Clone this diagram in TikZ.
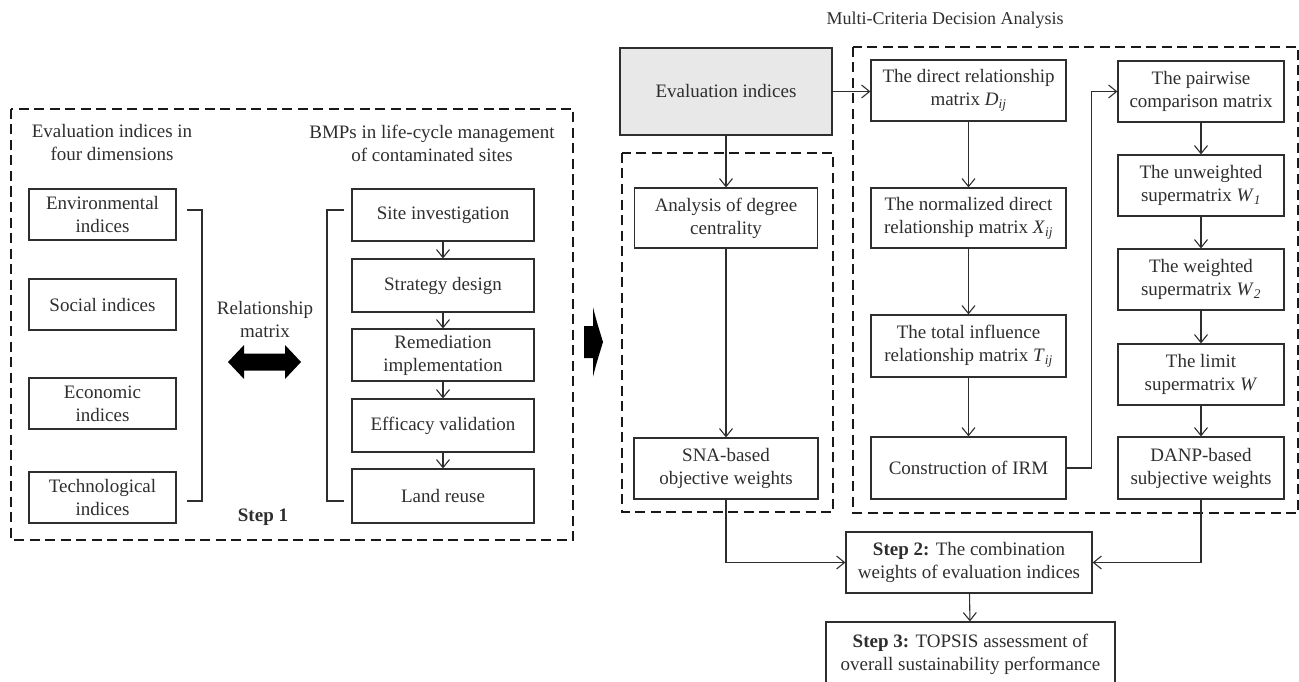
\documentclass[tikz,border=0pt]{standalone}
\usepackage{fontspec}
\setmainfont{Liberation Serif}
\usetikzlibrary{arrows.meta}
\definecolor{ink}{gray}{0.18}
\definecolor{boxfill}{gray}{0.91}
\begin{document}
\begin{tikzpicture}[x=1pt,y=-1pt,
  every node/.style={font=\fontsize{19}{23}\selectfont, text=ink, inner sep=0pt, align=center},
  bx/.style 2 args={draw=ink, line width=1.2pt, minimum width=#1, minimum height=#2},
  txt/.style={},
  dbox/.style={draw=black!90, line width=2pt, dash pattern=on 10pt off 5.5pt},
  arr/.style={draw=ink, line width=1.1pt, -{Straight Barb[length=8pt,width=13pt,line width=1.1pt]}},
  ln/.style={draw=ink, line width=1.2pt},
  bigarrow/.style={fill=black, draw=black, line width=0.6pt, line join=miter}
]
\useasboundingbox (0,0) rectangle (1299,682);

% ---------------- Step 1 ----------------
\draw[dbox] (11,109) rectangle (573,540);
\node[txt] (h1) at (112,143) {Evaluation indices in\\four dimensions};
\node[txt] (h2) at (432,143) {BMPs in life-cycle management\\of contaminated sites};

\node[bx={147pt}{51pt}] (env)  at (102.5,214.5) {Environmental\\indices};
\node[bx={147pt}{51pt}] (soc)  at (102.5,304.5) {Social indices};
\node[bx={147pt}{51pt}] (eco)  at (102.5,403.5) {Economic\\indices};
\node[bx={147pt}{51pt}] (tech) at (102.5,497.5) {Technological\\indices};

\coordinate (lb1) at (187,210); \coordinate (lb2) at (202,210);
\coordinate (lb3) at (202,501); \coordinate (lb4) at (187,501);
\draw[ln] (lb1) -- (lb2) -- (lb3) -- (lb4);

\coordinate (rb1) at (344,210); \coordinate (rb2) at (327,210);
\coordinate (rb3) at (327,501); \coordinate (rb4) at (344,501);
\draw[ln] (rb1) -- (rb2) -- (rb3) -- (rb4);

\node[txt] (rel) at (265,319) {Relationship\\matrix};
\fill[black] (228,362) -- (244,345) -- (244,353.5) -- (285,353.5) -- (285,345) -- (301,362)
  -- (285,379) -- (285,370.5) -- (244,370.5) -- (244,379) -- cycle;
\node[txt, font=\fontsize{19}{23}\selectfont\bfseries] (s1) at (263,517) {Step 1};

\node[bx={182pt}{52pt}] (site) at (443,215)   {Site investigation};
\node[bx={182pt}{53pt}] (strat) at (443,285.5) {Strategy design};
\node[bx={182pt}{52pt}] (rem)  at (443,355)   {Remediation\\implementation};
\node[bx={182pt}{53pt}] (eff)  at (443,425.5) {Efficacy validation};
\node[bx={182pt}{54pt}] (land) at (443,496)   {Land reuse};
\draw[arr] (site) -- (strat);
\draw[arr] (strat) -- (rem);
\draw[arr] (rem) -- (eff);
\draw[arr] (eff) -- (land);

% big arrow between parts
\fill[black] (584,326) -- (593,326) -- (593,307) .. controls (596,320) and (600,332) .. (603,342)
  .. controls (600,352) and (596,364) .. (593,377) -- (593,358) -- (584,358) -- cycle;

% ---------------- MCDA ----------------
\node[txt, font=\fontsize{18}{22}\selectfont] (mcda) at (945,20) {Multi-Criteria Decision Analysis};

\node[bx={212pt}{87pt}, fill=boxfill] (eval) at (726,91.5) {Evaluation indices};

\draw[dbox] (622,153) rectangle (833,512);
\node[bx={183pt}{60pt}] (deg) at (726,218) {Analysis of degree\\centrality};
\node[bx={184pt}{61pt}] (sna) at (726,468.5) {SNA-based\\objective weights};
\draw[arr] (eval) -- (deg);
\draw[arr] (deg) -- (sna);

\draw[dbox] (853,47) rectangle (1298,513);
\node[bx={195pt}{61pt}] (dir)  at (968.5,90.5) {The direct relationship\\matrix \textit{D}\textsubscript{\textit{ij}}};
\node[bx={195pt}{60pt}] (norm) at (968.5,218)  {The normalized direct\\relationship matrix \textit{X}\textsubscript{\textit{ij}}};
\node[bx={195pt}{62pt}] (tot)  at (968.5,346)  {The total influence\\relationship matrix \textit{T}\textsubscript{\textit{ij}}};
\node[bx={195pt}{62pt}] (irm)  at (968.5,468)  {Construction of IRM};
\draw[arr] (eval.east) -- (eval.east -| dir.west);
\draw[arr] (dir) -- (norm);
\draw[arr] (norm) -- (tot);
\draw[arr] (tot) -- (irm);

\node[bx={166pt}{61pt}] (pw)   at (1201,91.5)  {The pairwise\\comparison matrix};
\node[bx={166pt}{61pt}] (unw)  at (1201,185.5) {The unweighted\\supermatrix \textit{W}\textsubscript{\textit{1}}};
\node[bx={166pt}{61pt}] (wt)   at (1201,279.5) {The weighted\\supermatrix \textit{W}\textsubscript{\textit{2}}};
\node[bx={166pt}{61pt}] (lim)  at (1201,374.5) {The limit\\supermatrix \textit{W}};
\node[bx={166pt}{62pt}] (danp) at (1201,468)   {DANP-based\\subjective weights};
\draw[arr] (irm.east) -- ++(25,0) |- (pw.west);
\draw[arr] (pw) -- (unw);
\draw[arr] (unw) -- (wt);
\draw[arr] (wt) -- (lim);
\draw[arr] (lim) -- (danp);

\node[bx={246pt}{61pt}] (st2) at (969,562.5) {\textbf{Step 2:} The combination\\weights of evaluation indices};
\node[bx={289pt}{64pt}] (st3) at (970.5,654) {\textbf{Step 3:} TOPSIS assessment of\\overall sustainability performance};
\draw[arr] (sna.south) |- (st2.west);
\draw[arr] (danp.south) |- (st2.east);
\draw[arr] (st2) -- (st3);
\end{tikzpicture}
\end{document}
